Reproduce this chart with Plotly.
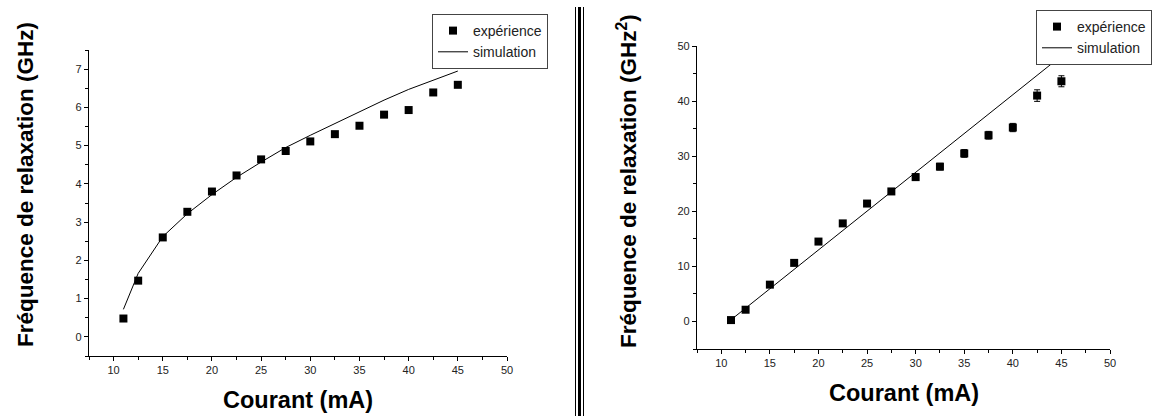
import plotly.graph_objects as go

# ---- data ----
courant = [11, 12.5, 15, 17.5, 20, 22.5, 25, 27.5, 30, 32.5, 35, 37.5, 40, 42.5, 45]
freq_exp = [0.48, 1.47, 2.60, 3.27, 3.80, 4.22, 4.64, 4.86, 5.11, 5.30, 5.52, 5.81, 5.93, 6.39, 6.59]
freq_sim = [0.72, 1.66, 2.62, 3.22, 3.72, 4.17, 4.57, 4.95, 5.27, 5.58, 5.88, 6.19, 6.47, 6.71, 6.95]

freq2_exp = [0.25, 2.13, 6.68, 10.63, 14.5, 17.8, 21.4, 23.6, 26.2, 28.1, 30.5, 33.8, 35.2, 41.0, 43.6]
freq2_err = [0.3, 0.3, 0.4, 0.4, 0.5, 0.5, 0.5, 0.5, 0.6, 0.6, 0.7, 0.7, 0.75, 1.05, 1.0]
sim2_x = [11, 45]
sim2_y = [0.3, 48.2]

x_ticks = [10, 15, 20, 25, 30, 35, 40, 45, 50]
y1_ticks = [0, 1, 2, 3, 4, 5, 6, 7]
y2_ticks = [0, 10, 20, 30, 40, 50]

W, H = 1156, 416
FONT = "Liberation Sans, Arial, sans-serif"

fig = go.Figure()

fig.add_trace(go.Scatter(x=courant, y=freq_exp, mode="markers", name="expérience",
                         marker=dict(symbol="square", size=8, color="black"),
                         xaxis="x", yaxis="y", legend="legend"))
fig.add_trace(go.Scatter(x=courant, y=freq_sim, mode="lines", name="simulation",
                         line=dict(color="black", width=1),
                         xaxis="x", yaxis="y", legend="legend"))

fig.add_trace(go.Scatter(x=courant, y=freq2_exp, mode="markers", name="expérience",
                         marker=dict(symbol="square", size=8, color="black"),
                         error_y=dict(type="data", array=freq2_err, color="black", thickness=1, width=3),
                         xaxis="x2", yaxis="y2", legend="legend2"))
fig.add_trace(go.Scatter(x=sim2_x, y=sim2_y, mode="lines", name="simulation",
                         line=dict(color="black", width=1),
                         xaxis="x2", yaxis="y2", legend="legend2"))

axis_common = dict(showline=True, linecolor="black", linewidth=1.2, ticks="outside",
                   ticklen=4, tickcolor="black", showgrid=False, zeroline=False,
                   tickfont=dict(family=FONT, size=11, color="#222"), mirror=False,
                   automargin=False)

legend_common = dict(xanchor="right", yanchor="top",
                     bordercolor="#444", borderwidth=1, bgcolor="white",
                     font=dict(family=FONT, size=14, color="#222"),
                     tracegroupgap=0, itemwidth=30)

fig.update_layout(
    width=W, height=H, margin=dict(l=0, r=0, t=0, b=0, autoexpand=False),
    paper_bgcolor="white", plot_bgcolor="white",
    font=dict(family=FONT, color="black"),
    xaxis=dict(domain=[89 / W, 507 / W], range=[7.5, 50], tickvals=x_ticks, anchor="y",
               minor=dict(ticks="outside", dtick=2.5, tick0=0, ticklen=3, tickcolor="black"),
               **axis_common),
    yaxis=dict(domain=[(H - 356) / H, (H - 50) / H], range=[-0.5, 7.5], tickvals=y1_ticks, anchor="x",
               minor=dict(ticks="outside", dtick=0.5, tick0=0, ticklen=3, tickcolor="black"),
               **axis_common),
    xaxis2=dict(domain=[697 / W, 1110 / W], range=[7.5, 50], tickvals=x_ticks, anchor="y2",
                minor=dict(ticks="outside", dtick=2.5, tick0=0, ticklen=3, tickcolor="black"),
                **axis_common),
    yaxis2=dict(domain=[(H - 349) / H, (H - 46) / H], range=[-5, 50], tickvals=y2_ticks, anchor="x2",
                minor=dict(ticks="outside", dtick=5, tick0=0, ticklen=3, tickcolor="black"),
                **axis_common),
    legend=dict(x=548 / W, y=1 - 14 / H, **legend_common),
    legend2=dict(x=1152 / W, y=1 - 10 / H, **legend_common),
    showlegend=True,
)

ytitle_font = dict(family=FONT, size=22.5, color="black")
xtitle_font = dict(family=FONT, size=23.5, color="black")
fig.add_annotation(text="<b>Fréquence de relaxation (GHz)</b>", x=25 / W, y=1 - 185 / H,
                   xref="paper", yref="paper", textangle=-90, showarrow=False,
                   xanchor="center", yanchor="middle", font=ytitle_font)
fig.add_annotation(text="<b>Fréquence de relaxation (GHz<sup>2</sup>)</b>", x=627 / W, y=1 - 181 / H,
                   xref="paper", yref="paper", textangle=-90, showarrow=False,
                   xanchor="center", yanchor="middle", font=ytitle_font)
fig.add_annotation(text="<b>Courant (mA)</b>", x=298 / W, y=1 - 400 / H,
                   xref="paper", yref="paper", showarrow=False,
                   xanchor="center", yanchor="middle", font=xtitle_font)
fig.add_annotation(text="<b>Courant (mA)</b>", x=904 / W, y=1 - 393 / H,
                   xref="paper", yref="paper", showarrow=False,
                   xanchor="center", yanchor="middle", font=xtitle_font)

# separator (double rule between the two panels)
for xp, wd in [(575.5, 1), (579.5, 3), (583.5, 1)]:
    fig.add_shape(type="line", xref="paper", yref="paper", x0=xp / W, x1=xp / W,
                  y0=0, y1=1 - 7 / H, line=dict(color="black", width=wd))

fig.write_html("out.html", config={"displayModeBar": False},
               post_script="document.body.style.margin='0';document.body.style.padding='0';")
